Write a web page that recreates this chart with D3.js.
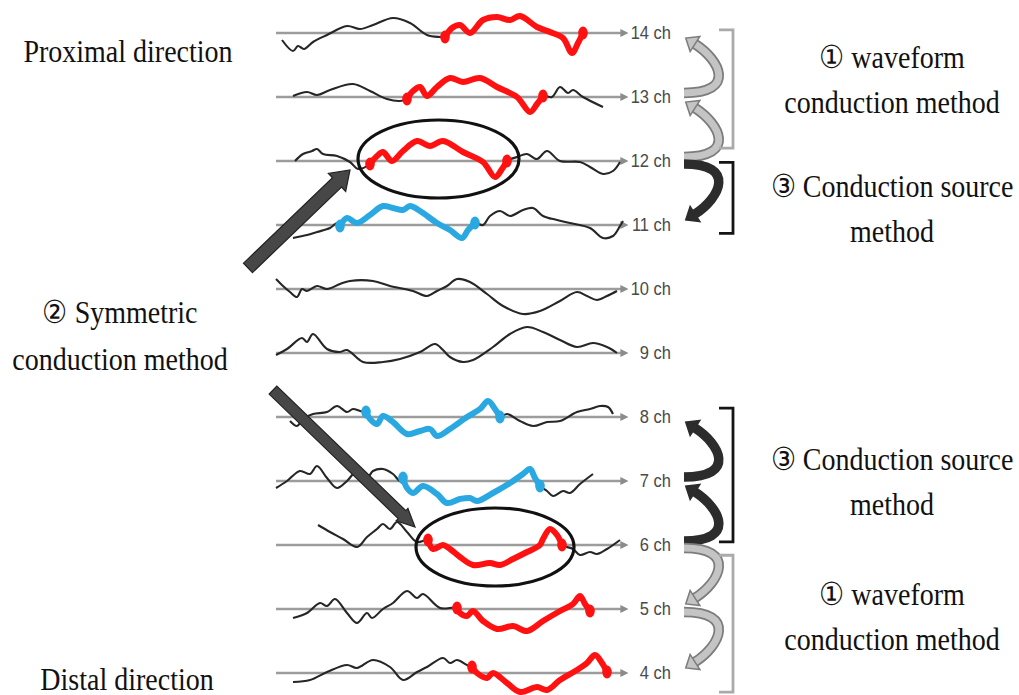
<!DOCTYPE html>
<html>
<head>
<meta charset="utf-8">
<script src="https://cdn.jsdelivr.net/npm/d3@7"></script>
<style>
  html, body { margin: 0; padding: 0; background: #fff; }
  svg { display: block; }
</style>
</head>
<body>
<svg id="chart" width="1019" height="695"></svg>
<script>
// Recording channels, top (proximal) to bottom (distal)
const channels = [14, 13, 12, 11, 10, 9, 8, 7, 6, 5, 4];
const channelLabels = ["14 ch", "13 ch", "12 ch", "11 ch", "10 ch", "9 ch", "8 ch", "7 ch", "6 ch", "5 ch", "4 ch"];

// Waveform samples per channel: [sample index, amplitude]
const wave14 = [[6,-7],[17,-18],[22,-13],[28,-16],[37,-9],[51,-2],[71,7],[84,4],[97,8],[117,15],[134,10],[151,-2],[164,-4],[169,-4],[176,5],[184,8],[194,0],[207,13],[221,16],[234,13],[244,17],[261,6],[274,1],[287,-5],[296,-20],[302,-10],[307,0]];
const wave13 = [[17,1],[31,5],[41,2],[54,7],[77,13],[94,6],[111,-2],[124,-4],[131,-2],[137,6],[144,10],[151,1],[161,10],[174,19],[187,15],[204,19],[221,10],[241,0],[254,-15],[261,-7],[267,1],[276,0],[284,10],[292,4],[297,7],[307,0],[327,-10]];
const wave12 = [[19,0],[27,7],[36,10],[41,12],[47,7],[61,5],[74,-1],[82,-8],[94,-3],[101,5],[107,9],[116,0],[127,10],[141,20],[154,15],[167,20],[187,9],[207,-1],[219,-16],[226,-8],[231,0],[241,4],[251,7],[261,2],[271,10],[284,0],[304,-1],[314,-6],[327,-13],[337,-10],[344,-1]];
const wave11 = [[17,-13],[31,-10],[41,-7],[54,-3],[61,2],[64,-1],[71,7],[81,2],[94,10],[107,19],[117,17],[127,15],[134,19],[144,14],[161,2],[174,-5],[186,-13],[192,-5],[199,2],[207,0],[214,9],[224,14],[234,9],[247,15],[257,17],[267,9],[281,5],[294,2],[314,-3],[327,-13],[337,-11],[344,-1],[347,4]];
const wave10 = [[0,10],[7,3],[14,-3],[21,-8],[26,0],[31,-2],[41,3],[51,0],[64,5],[74,8],[97,8],[114,3],[137,-2],[151,-7],[161,-2],[171,3],[181,10],[194,7],[211,-5],[227,-17],[247,-25],[264,-22],[284,-12],[301,-3],[311,-7],[321,-11],[331,-7],[341,-2]];
const wave9  = [[0,-2],[11,4],[26,15],[31,11],[37,19],[51,4],[64,1],[71,3],[87,-9],[107,-9],[124,-6],[144,1],[159,9],[167,3],[174,-4],[187,-9],[197,-7],[217,6],[234,19],[251,26],[267,21],[284,13],[301,6],[317,10],[331,6],[341,0]];
const wave8  = [[14,-4],[21,-9],[27,-2],[37,3],[51,5],[61,11],[71,5],[77,8],[84,6],[90,5],[94,-2],[101,-7],[107,1],[117,-5],[131,-17],[144,-14],[154,-12],[161,-19],[174,-12],[191,0],[204,8],[212,16],[219,8],[224,0],[231,3],[244,-4],[257,-9],[271,-5],[284,-4],[301,5],[314,8],[324,11],[332,10],[337,3]];
const wave7  = [[0,-7],[11,0],[24,10],[34,7],[41,15],[51,3],[61,-7],[71,0],[81,10],[91,3],[97,10],[107,12],[117,7],[124,0],[127,3],[131,-7],[137,-12],[147,-5],[161,-13],[171,-22],[184,-18],[194,-17],[201,-20],[217,-12],[234,-2],[247,7],[254,12],[259,3],[264,-5],[271,-10],[277,-15],[287,-10],[294,-12],[304,-3],[317,7]];
const wave6  = [[42,20],[54,13],[67,6],[81,-2],[91,8],[101,16],[107,21],[114,16],[121,23],[131,13],[141,3],[152,5],[157,-4],[167,0],[174,-4],[184,-12],[197,-20],[214,-18],[224,-20],[237,-14],[251,-7],[264,0],[267,6],[274,16],[281,10],[286,0],[297,-4],[304,-10],[314,-7],[321,-9],[331,-4],[344,5]];
const wave5  = [[17,-9],[31,-4],[44,6],[51,3],[59,10],[71,-4],[81,-14],[91,-4],[96,-9],[107,0],[117,6],[131,18],[141,11],[147,15],[164,1],[181,1],[184,-4],[191,-7],[197,-2],[207,-12],[221,-20],[237,-17],[251,-22],[267,-12],[284,-2],[297,5],[304,13],[309,5],[314,-2]];
const wave4  = [[17,-9],[34,-7],[51,1],[71,8],[81,5],[97,13],[114,6],[127,-7],[141,1],[151,6],[167,15],[174,10],[181,13],[191,8],[196,6],[201,0],[211,-5],[217,0],[231,-10],[244,-19],[261,-14],[271,-17],[284,-7],[301,3],[311,10],[319,18],[326,10],[331,1]];

// Detected conduction windows [start sample, end sample]
const redSpans  = { 14: [169, 307], 13: [131, 267], 12: [94, 231], 6: [152, 286], 5: [181, 314], 4: [196, 331] };
const blueSpans = { 11: [64, 199], 8: [90, 224], 7: [127, 264] };

// Channels whose window is circled as the symmetric pair
const circledChannels = [12, 6];

// Symmetric-conduction pointers: [sample, channel] tail and tip
const symmetricArrows = [
  { tail: [-28, 10.33], tip: [74, 11.86], head: 25, width: 13 },
  { tail: [-3, 8.42],  tip: [139, 6.28], head: 17, width: 11 }
];

// Curved arrows between neighbouring channels
const hopArrows = [
  { from: 13, to: 14, tone: "light" },
  { from: 12, to: 13, tone: "light" },
  { from: 12, to: 11, tone: "dark" },
  { from: 7, to: 8, tone: "dark" },
  { from: 6, to: 7, tone: "dark" },
  { from: 6, to: 5, tone: "light" },
  { from: 5, to: 4, tone: "light" }
];

// Brackets grouping the hops, in channel units
const brackets = [
  { top: 14.05, bottom: 12.2, tone: "light" },
  { top: 11.98, bottom: 10.87, tone: "dark" },
  { top: 8.14, bottom: 6.05, tone: "dark" },
  { top: 5.84, bottom: 3.7, tone: "light" }
];

const waves = { 14: wave14, 13: wave13, 12: wave12, 11: wave11, 10: wave10, 9: wave9, 8: wave8, 7: wave7, 6: wave6, 5: wave5, 4: wave4 };

const RED = "#ff1111", BLUE = "#2aa8e2";

const svg = d3.select("#chart");
svg.append("rect").attr("width", 1019).attr("height", 695).attr("fill", "#fff");

const x = d3.scaleLinear().domain([0, 352]).range([276, 628]);
const y = d3.scaleLinear().domain([14, 4]).range([33, 673]);
const amp = d3.scaleLinear().domain([-30, 30]).range([30, -30]);

const defs = svg.append("defs");
defs.append("marker")
  .attr("id", "baseHead").attr("viewBox", "0 0 10 10")
  .attr("refX", 2).attr("refY", 5)
  .attr("markerWidth", 3.2).attr("markerHeight", 3.2)
  .attr("orient", "auto")
  .append("path").attr("d", "M0,0 L10,5 L0,10 Z").attr("fill", "#8c8c8c");

// Baselines with arrowheads and channel names
const rows = svg.append("g");
channels.forEach((ch, i) => {
  rows.append("line")
    .attr("x1", x(0)).attr("x2", x(352) - 6)
    .attr("y1", y(ch)).attr("y2", y(ch))
    .attr("stroke", "#9c9c9c").attr("stroke-width", 2.5)
    .attr("marker-end", "url(#baseHead)");
  rows.append("text")
    .attr("transform", `translate(671,${y(ch) + 6}) scale(1,1.1)`)
    .attr("text-anchor", "end")
    .attr("font-family", "'Liberation Sans Narrow', 'Liberation Sans', sans-serif")
    .attr("font-size", 16.5)
    .attr("fill", "#4a4a4a")
    .text(channelLabels[i]);
});

const lineFor = ch => d3.line()
  .x(d => x(d[0]))
  .y(d => y(ch) + amp(d[1]))
  .curve(d3.curveCatmullRom.alpha(0.5));

// Raw waveforms
const traces = svg.append("g");
channels.forEach(ch => {
  traces.append("path")
    .attr("d", lineFor(ch)(waves[ch]))
    .attr("fill", "none").attr("stroke", "#262626")
    .attr("stroke-width", 2.1).attr("stroke-linejoin", "round");
});

// Highlighted conduction windows
function drawSpan(ch, span, color) {
  const pts = waves[ch].filter(d => d[0] >= span[0] && d[0] <= span[1]);
  const g = svg.append("g");
  g.append("path")
    .attr("d", lineFor(ch)(pts))
    .attr("fill", "none").attr("stroke", color)
    .attr("stroke-width", 6).attr("stroke-linejoin", "round").attr("stroke-linecap", "round");
  [pts[0], pts[pts.length - 1]].forEach(p => {
    g.append("ellipse")
      .attr("cx", x(p[0])).attr("cy", y(ch) + amp(p[1]))
      .attr("rx", 4.8).attr("ry", 6.5)
      .attr("fill", color);
  });
}
Object.entries(redSpans).forEach(([ch, s]) => drawSpan(+ch, s, RED));
Object.entries(blueSpans).forEach(([ch, s]) => drawSpan(+ch, s, BLUE));

// Circles around the symmetric pair
circledChannels.forEach(ch => {
  const s = redSpans[ch];
  const pts = waves[ch].filter(d => d[0] >= s[0] && d[0] <= s[1]);
  const ext = d3.extent(pts, d => d[1]);
  const cx = (x(s[0]) + x(s[1])) / 2;
  const cy = y(ch) + (amp(ext[0]) + amp(ext[1])) / 2;
  svg.append("ellipse")
    .attr("cx", cx).attr("cy", cy)
    .attr("rx", (x(s[1]) - x(s[0])) / 2 + 12).attr("ry", 39)
    .attr("fill", "none").attr("stroke", "#111").attr("stroke-width", 3.2);
});

// Straight block arrows pointing at the circled pair
symmetricArrows.forEach(a => {
  const p0 = [x(a.tail[0]), y(a.tail[1])];
  const p1 = [x(a.tip[0]), y(a.tip[1])];
  const dx = p1[0] - p0[0], dy = p1[1] - p0[1];
  const L = Math.hypot(dx, dy);
  const u = [dx / L, dy / L], n = [-u[1], u[0]];
  const sw = a.width, hw = a.head, hl = 18;
  const b = [p1[0] - u[0] * hl, p1[1] - u[1] * hl];
  const pt = (p, k) => [p[0] + n[0] * k, p[1] + n[1] * k];
  const poly = [pt(p0, sw / 2), pt(b, sw / 2), pt(b, hw / 2), p1, pt(b, -hw / 2), pt(b, -sw / 2), pt(p0, -sw / 2)];
  svg.append("path")
    .attr("d", "M" + poly.map(p => p.join(",")).join("L") + "Z")
    .attr("fill", "#474747").attr("stroke", "#222").attr("stroke-width", 1.2);
});

// Curved hop arrows on the right
hopArrows.forEach(h => {
  const dir = Math.sign(y(h.to) - y(h.from));
  const s = [684, y(h.from) + (dir < 0 ? -4 : 3)];
  const tip = [685, y(h.to) + (dir < 0 ? 2 : -2)];
  const e = [695, tip[1] - dir * 9];
  const c1 = [737, s[1]];
  const c2 = [720, e[1] - dir * 16];
  const tx = e[0] - c2[0], ty = e[1] - c2[1];
  const tl = Math.hypot(tx, ty);
  const u = [tx / tl, ty / tl], n = [-u[1], u[0]];
  const d = `M${s}C${c1} ${c2} ${e}`;
  const headTip = [e[0] + u[0] * 11, e[1] + u[1] * 11];
  const head = [[e[0] + n[0] * 9, e[1] + n[1] * 9], headTip, [e[0] - n[0] * 9, e[1] - n[1] * 9]];
  const g = svg.append("g");
  if (h.tone === "light") {
    g.append("path").attr("d", d).attr("fill", "none").attr("stroke", "#7c7c7c").attr("stroke-width", 10.5);
    g.append("path").attr("d", d).attr("fill", "none").attr("stroke", "#c4c4c4").attr("stroke-width", 7);
    g.append("path").attr("d", "M" + head.join("L") + "Z").attr("fill", "#c4c4c4").attr("stroke", "#7c7c7c").attr("stroke-width", 1.5);
  } else {
    g.append("path").attr("d", d).attr("fill", "none").attr("stroke", "#2c2c2c").attr("stroke-width", 9.5);
    g.append("path").attr("d", "M" + head.join("L") + "Z").attr("fill", "#2c2c2c").attr("stroke", "#2c2c2c").attr("stroke-width", 1.5);
  }
});

// Brackets
brackets.forEach(b => {
  const bx = 733;
  svg.append("path")
    .attr("d", `M${bx - 14},${y(b.top)}H${bx}V${y(b.bottom)}H${bx - 14}`)
    .attr("fill", "none")
    .attr("stroke", b.tone === "light" ? "#aaaaaa" : "#141414")
    .attr("stroke-width", 2.8);
});

// Annotation text
const serif = "'Liberation Serif', 'Times New Roman', serif";
const notes = [
  { x: 128, y: 62, t: "Proximal direction" },
  { x: 120, y: 323, t: "\u2461 Symmetric" },
  { x: 120, y: 370, t: "conduction method" },
  { x: 127, y: 690, t: "Distal direction" },
  { x: 892, y: 68, t: "\u2460 waveform" },
  { x: 892, y: 113, t: "conduction method" },
  { x: 892, y: 197, t: "\u2462 Conduction source" },
  { x: 892, y: 242, t: "method" },
  { x: 892, y: 470, t: "\u2462 Conduction source" },
  { x: 892, y: 515, t: "method" },
  { x: 892, y: 605, t: "\u2460 waveform" },
  { x: 892, y: 650, t: "conduction method" }
];
svg.append("g").selectAll("text").data(notes).join("text")
  .attr("transform", d => `translate(${d.x},${d.y}) scale(1,1.14)`)
  .attr("text-anchor", "middle")
  .attr("font-family", serif).attr("font-size", 28)
  .attr("fill", "#111")
  .text(d => d.t);
</script>
</body>
</html>
